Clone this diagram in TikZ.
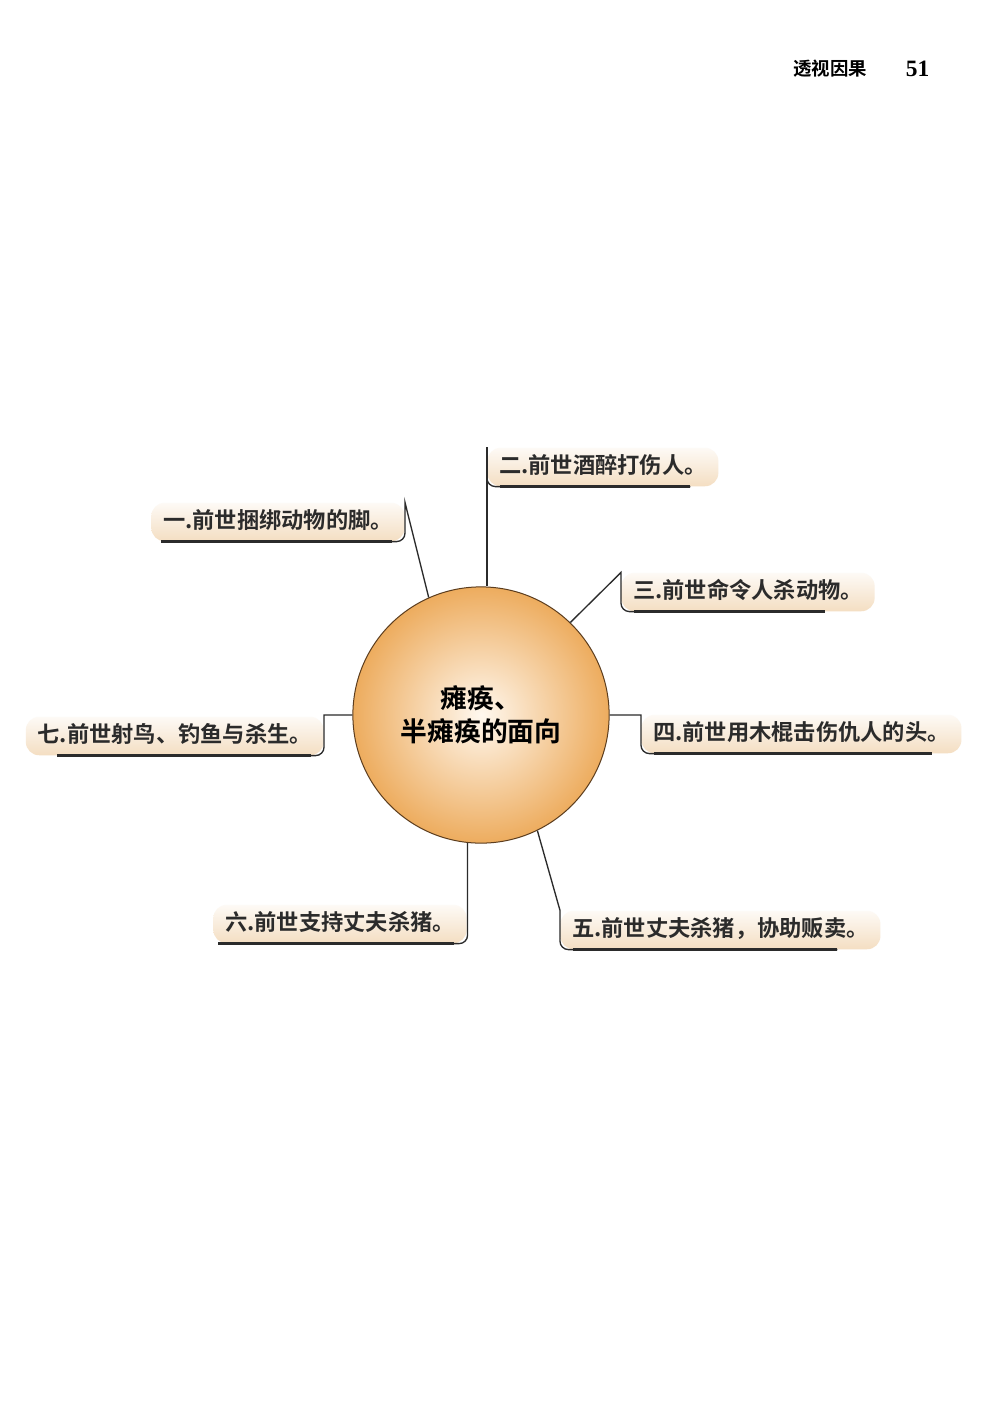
\documentclass[tikz,border=0pt]{standalone}
\usepackage{fontspec}
\setmainfont{Liberation Serif}
\newfontfamily\cjk{Noto Sans CJK SC}[BoldFont={* Bold}]
\definecolor{glow}{HTML}{F4DEC2}
\definecolor{ball}{HTML}{EDAC5E}
\definecolor{ballin}{HTML}{FFF8EF}
\definecolor{rim}{HTML}{5C3D1E}
\definecolor{ink}{HTML}{2B2B2B}
\begin{document}
\begin{tikzpicture}[x=0.021cm,y=-0.021cm,
    lab/.style={top color=glow!15, bottom color=glow, rounded corners=8pt,
      inner xsep=7pt, inner ysep=5pt, text height=10.5pt, text depth=2.5pt,
      font=\cjk\bfseries\fontsize{13.3}{16}\selectfont, text=ink},
    conn/.style={draw=ink, line width=0.8pt},
    uline/.style={draw=ink, line width=1.6pt}]
    \fill[white] (0,0) rectangle (1000,1415);
    \useasboundingbox (0,0) rectangle (1000,1415);

    % page head
    \node[anchor=east, font=\cjk\bfseries\fontsize{11}{13}\selectfont] (head) at (873,69) {透视因果};
    \node[anchor=west, font=\bfseries\fontsize{14}{16}\selectfont] (page) at (900,69) {51};

    % centre ball
    \node[circle, draw=rim, line width=0.6pt, inner color=ballin, outer color=ball,
      minimum size=5.38cm, inner sep=0pt, align=center,
      font=\cjk\bfseries\fontsize{16}{20}\selectfont] (hub) at (481,715) {瘫痪、\\半瘫痪的面向};

    % callouts
    \node[lab, anchor=west] (l1) at (151,522) {一.前世捆绑动物的脚。};
    \node[lab, anchor=west] (l2) at (487,467) {二.前世酒醉打伤人。};
    \node[lab, anchor=west] (l3) at (621,592) {三.前世命令人杀动物。};
    \node[lab, anchor=west] (l4) at (641,734) {四.前世用木棍击伤仇人的头。};
    \node[lab, anchor=west] (l5) at (560,930) {五.前世丈夫杀猪，协助贩卖。};
    \node[lab, anchor=east] (l6) at (467,924) {六.前世支持丈夫杀猪。};
    \node[lab, anchor=east] (l7) at (324,736) {七.前世射鸟、钓鱼与杀生。};

    % connectors
    \draw[conn] (hub.114) -- (l1.north east) [rounded corners=5pt] -- (l1.south east) -- ([xshift=6pt]l1.south west);
    \draw[uline] ([xshift=-8pt]l1.south east) -- ([xshift=6pt]l1.south west);

    \draw[conn] (l2.north west) -- (l2.north west |- hub.north);
    \draw[conn] (l2.west) [rounded corners=5pt] -- (l2.south west) -- ([xshift=-17pt]l2.south east);
    \draw[uline] ([xshift=8pt]l2.south west) -- ([xshift=-17pt]l2.south east);

    \draw[conn] (hub.46) -- (l3.north west) [rounded corners=5pt] -- (l3.south west) -- ([xshift=-30pt]l3.south east);
    \draw[uline] ([xshift=8pt]l3.south west) -- ([xshift=-30pt]l3.south east);

    \draw[conn] (hub.east) -- (l4.north west |- hub.east) [rounded corners=5pt] -- (l4.south west) -- ([xshift=-18pt]l4.south east);
    \draw[uline] ([xshift=8pt]l4.south west) -- ([xshift=-18pt]l4.south east);

    \draw[conn] (hub.-64) -- (l5.north west) [rounded corners=5pt] -- (l5.south west) -- ([xshift=-26pt]l5.south east);
    \draw[uline] ([xshift=8pt]l5.south west) -- ([xshift=-26pt]l5.south east);

    \draw[conn] (hub.-96) [rounded corners=5pt] -- (hub.-96 |- l6.south) -- ([xshift=3pt]l6.south west);
    \draw[uline] ([xshift=-8pt]hub.-96 |- l6.south) -- ([xshift=3pt]l6.south west);

    \draw[conn] (hub.west) -- (l7.north east |- hub.west) [rounded corners=5pt] -- (l7.south east) -- ([xshift=19pt]l7.south west);
    \draw[uline] ([xshift=-8pt]l7.south east) -- ([xshift=19pt]l7.south west);
\end{tikzpicture}
\end{document}
